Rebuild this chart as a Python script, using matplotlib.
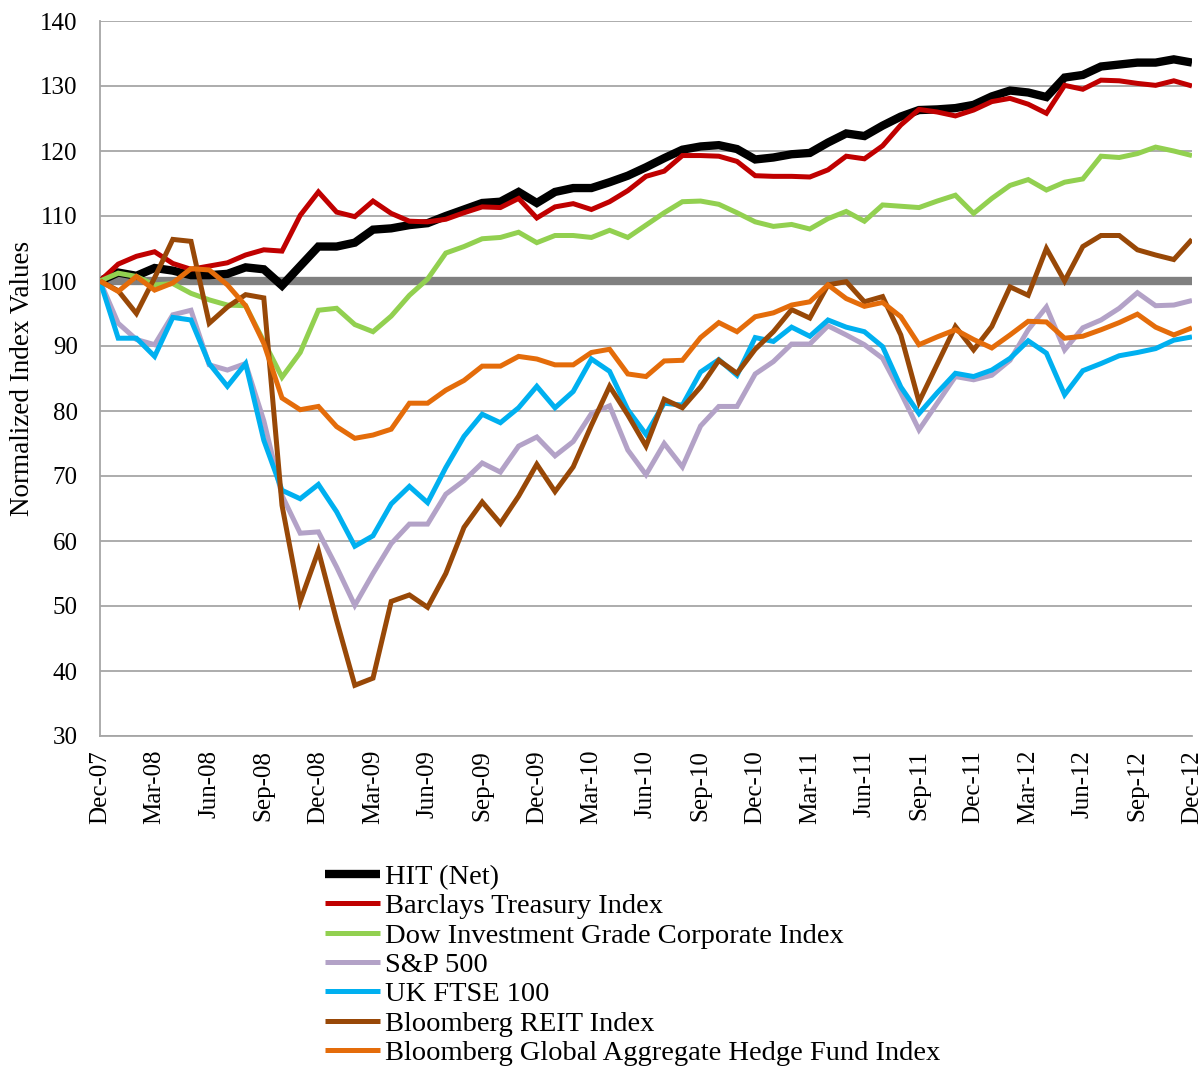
import numpy as np
import matplotlib
matplotlib.use("Agg")
import matplotlib.pyplot as plt

plt.rcParams["font.family"] = ["Liberation Serif", "DejaVu Serif"]

# monthly observations, Dec-07 .. Dec-12
month_labels = ["Dec-07", "Mar-08", "Jun-08", "Sep-08", "Dec-08", "Mar-09", "Jun-09",
                "Sep-09", "Dec-09", "Mar-10", "Jun-10", "Sep-10", "Dec-10", "Mar-11",
                "Jun-11", "Sep-11", "Dec-11", "Mar-12", "Jun-12", "Sep-12", "Dec-12"]

hit_net = [100, 101.3, 100.8, 102, 101.6, 100.9, 100.9, 101.1, 102.1, 101.8,
           99.3, 102.3, 105.3, 105.3, 105.9, 107.9, 108.1, 108.6, 108.9, 110,
           111, 112, 112.2, 113.7, 112, 113.7, 114.3, 114.3, 115.2, 116.2,
           117.5, 118.9, 120.2, 120.7, 120.9, 120.3, 118.7, 119, 119.5, 119.7,
           121.3, 122.7, 122.3, 123.9, 125.3, 126.3, 126.4, 126.6, 127.1, 128.4,
           129.3, 129, 128.3, 131.3, 131.7, 133, 133.3, 133.6, 133.6, 134.1, 133.6]

barclays = [100, 102.6, 103.8, 104.5, 102.7, 101.8, 102.3, 102.8, 104, 104.8,
            104.6, 110.1, 113.7, 110.6, 109.9, 112.3, 110.4, 109.2, 109.1, 109.5,
            110.5, 111.4, 111.3, 112.7, 109.7, 111.4, 111.9, 111, 112.2, 113.9,
            116.1, 116.9, 119.3, 119.3, 119.2, 118.4, 116.2, 116.1, 116.1, 116,
            117.1, 119.2, 118.8, 120.8, 124, 126.4, 126, 125.4, 126.3, 127.6,
            128.1, 127.2, 125.8, 130.1, 129.5, 130.9, 130.8, 130.4, 130.1, 130.8, 130]

dow_corp = [100, 101.2, 100.7, 99.4, 99.6, 98.1, 97.1, 96.3, 96.2, 90.7,
            85.2, 89, 95.5, 95.8, 93.3, 92.2, 94.6, 97.8, 100.3, 104.3,
            105.3, 106.5, 106.7, 107.5, 105.9, 107, 107, 106.7, 107.8, 106.7,
            108.6, 110.5, 112.2, 112.3, 111.8, 110.5, 109.1, 108.4, 108.7, 108,
            109.6, 110.7, 109.2, 111.7, 111.5, 111.3, 112.3, 113.2, 110.4, 112.7,
            114.7, 115.6, 114, 115.2, 115.7, 119.2, 119, 119.6, 120.6, 120, 119.3]

sp500 = [100, 93.5, 91, 90.2, 94.8, 95.5, 87.1, 86.3, 87.3, 78.5,
         67, 61.2, 61.4, 56, 50.1, 55, 59.6, 62.6, 62.6, 67.2,
         69.3, 72, 70.6, 74.6, 76, 73.1, 75.3, 79.6, 80.8, 74,
         70.2, 75, 71.4, 77.7, 80.7, 80.7, 85.7, 87.6, 90.3, 90.3,
         93.1, 91.7, 90.2, 88.1, 82.8, 77.1, 81.2, 85.3, 84.8, 85.5,
         87.8, 92.5, 96, 89.4, 92.8, 94, 95.8, 98.2, 96.2, 96.3, 97]

ftse100 = [100, 91.2, 91.2, 88.4, 94.4, 94, 87.3, 83.8, 87.3, 75.5,
           67.8, 66.5, 68.7, 64.5, 59.2, 60.8, 65.7, 68.4, 65.9, 71.3,
           76.1, 79.5, 78.2, 80.5, 83.8, 80.5, 83, 88, 86.1, 80.2,
           76.4, 81.2, 80.9, 86, 87.9, 85.5, 91.3, 90.7, 92.9, 91.5,
           94, 92.9, 92.2, 89.9, 83.7, 79.6, 82.8, 85.8, 85.3, 86.3,
           88.1, 90.8, 88.9, 82.5, 86.2, 87.3, 88.5, 89, 89.6, 90.9, 91.4]

reit = [100, 98.5, 95, 100.5, 106.4, 106.1, 93.5, 96, 97.9, 97.4,
        65.5, 50.7, 58.5, 47.8, 37.8, 38.9, 50.7, 51.7, 49.8, 55,
        62.1, 66, 62.7, 66.9, 71.8, 67.6, 71.4, 77.8, 83.8, 79.4,
        74.6, 81.8, 80.5, 83.7, 87.8, 85.8, 89.5, 92.2, 95.6, 94.3,
        99.4, 99.9, 96.8, 97.6, 91.7, 81.4, 87.2, 93, 89.4, 93,
        99.1, 97.8, 105, 100, 105.3, 107, 107, 104.8, 104, 103.3, 106.4]

hedge_fund = [100, 98.4, 100.7, 98.6, 99.7, 101.9, 101.7, 99.4, 96.2, 90.4,
              82, 80.2, 80.7, 77.6, 75.8, 76.3, 77.2, 81.2, 81.2, 83.2,
              84.7, 86.9, 86.9, 88.4, 88, 87.1, 87.1, 89, 89.5, 85.7,
              85.3, 87.7, 87.8, 91.3, 93.6, 92.2, 94.5, 95.1, 96.3, 96.8,
              99.4, 97.3, 96.1, 96.7, 94.5, 90.2, 91.4, 92.5, 91, 89.7,
              91.7, 93.8, 93.7, 91.2, 91.5, 92.5, 93.6, 94.9, 92.9, 91.7, 92.8]

base_level = 100

series = [
    ("HIT (Net)", hit_net, "#000000", 6.0),
    ("Barclays Treasury Index", barclays, "#C00000", 3.6),
    ("Dow Investment Grade Corporate Index", dow_corp, "#92D050", 3.6),
    ("S&P 500", sp500, "#B3A2C7", 3.6),
    ("UK FTSE 100", ftse100, "#00B0F0", 3.6),
    ("Bloomberg REIT Index", reit, "#984807", 3.6),
    ("Bloomberg Global Aggregate Hedge Fund Index", hedge_fund, "#E46C0A", 3.6),
]

fig = plt.figure(figsize=(12.02, 10.68), dpi=100)
ax = fig.add_axes([100 / 1202, 1 - 736 / 1068, 1092 / 1202, 715 / 1068])

months = np.arange(len(hit_net))
ax.axhline(base_level, color="#808080", lw=6, zorder=1.5)
for k, (name, vals, col, lw) in enumerate(series):
    ax.plot(months, vals, color=col, lw=lw, label=name, zorder=2 + k,
            solid_joinstyle="miter", solid_capstyle="butt")

ax.set_xlim(0, len(hit_net) - 1)
ax.set_ylim(30, 140)
ax.set_yticks(np.arange(30, 141, 10))
ax.set_xticks(months[::3])
ax.set_xticklabels(month_labels, rotation=90, fontsize=18)
ax.tick_params(axis="y", labelsize=18, length=0, pad=16)
ax.tick_params(axis="x", length=0, pad=10)
ax.grid(axis="y", color="#a6a6a6", lw=1.3)
ax.set_axisbelow(True)
for s in ["top", "right"]:
    ax.spines[s].set_visible(False)
for s in ["left", "bottom"]:
    ax.spines[s].set_color("#a6a6a6")
    ax.spines[s].set_linewidth(1.3)
ax.set_ylabel("Normalized Index Values", fontsize=19.5, labelpad=4)

fig.legend(loc="upper left", bbox_to_anchor=(325 / 1202, 1 - 864 / 1068),
           frameon=False, fontsize=20.5, handlelength=1.93, handletextpad=0.18,
           labelspacing=0.12, borderpad=0, borderaxespad=0)

fig.savefig("out.png", dpi=100)
